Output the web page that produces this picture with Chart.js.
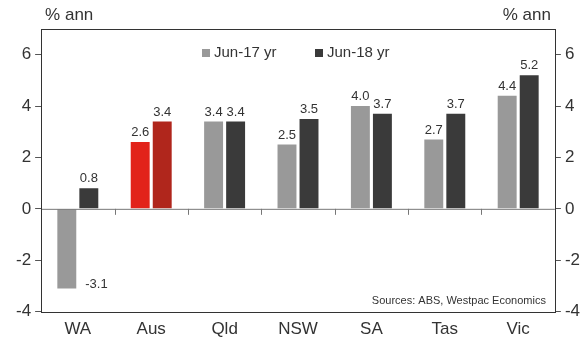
<!DOCTYPE html>
<html>
<head>
<meta charset="utf-8">
<script src="https://cdn.jsdelivr.net/npm/chart.js@4"></script>
<style>
  html, body { margin: 0; padding: 0; background: #fff; }
  #wrap { width: 587px; height: 343px; }
</style>
</head>
<body>
<div id="wrap"><canvas id="growth-chart"></canvas></div>
<script>
const categories = ['WA', 'Aus', 'Qld', 'NSW', 'SA', 'Tas', 'Vic'];
const jun17 = [-3.1, 2.6, 3.4, 2.5, 4.0, 2.7, 4.4];
const jun18 = [0.8, 3.4, 3.4, 3.5, 3.7, 3.7, 5.2];
const seriesNames = ['Jun-17 yr', 'Jun-18 yr'];
const yTicks = [-4, -2, 0, 2, 4, 6];

const font = '"Liberation Sans", Arial, sans-serif';
const grey = '#999999';
const dark = '#3a3a3a';

// bar labels, box, zero line, legend and notes
const extras = {
    id: 'extras',
    afterDatasetsDraw(chart) {
        const { ctx, chartArea: a, scales } = chart;
        const y0 = scales.y.getPixelForValue(0);
        ctx.save();
        // zero line + category ticks
        ctx.strokeStyle = '#777';
        ctx.lineWidth = 1;
        ctx.beginPath();
        ctx.moveTo(a.left, y0 + 0.5);
        ctx.lineTo(a.right, y0 + 0.5);
        for (let i = 1; i < categories.length; i++) {
            const x = Math.round(scales.x.getPixelForValue(i - 0.5)) + 0.5;
            ctx.moveTo(x, y0);
            ctx.lineTo(x, y0 + 6);
        }
        ctx.stroke();
        // box
        ctx.strokeStyle = '#333';
        ctx.strokeRect(Math.round(a.left) + 0.5, Math.round(a.top) + 0.5,
            Math.round(a.width), Math.round(a.height));

        // value labels
        ctx.font = '13px ' + font;
        ctx.fillStyle = '#333';
        ctx.textAlign = 'center';
        chart.data.datasets.forEach((ds, di) => {
            chart.getDatasetMeta(di).data.forEach((bar, i) => {
                const v = ds.data[i];
                if (v >= 0) {
                    ctx.textBaseline = 'bottom';
                    ctx.fillText(v.toFixed(1), bar.x, bar.y - 3);
                } else {
                    ctx.textBaseline = 'middle';
                    ctx.textAlign = 'left';
                    ctx.fillText(v.toFixed(1), bar.x + bar.width / 2 + 9, bar.y - 4);
                    ctx.textAlign = 'center';
                }
            });
        });

        // legend
        ctx.font = '15px ' + font;
        ctx.textAlign = 'left';
        ctx.textBaseline = 'middle';
        const ly = a.top + 24;
        [[grey, seriesNames[0], 202], [dark, seriesNames[1], 315]].forEach(([c, t, x]) => {
            ctx.fillStyle = c;
            ctx.fillRect(x, ly - 4, 8, 8);
            ctx.fillStyle = '#333';
            ctx.fillText(t, x + 12, ly);
        });

        // axis units
        ctx.font = '17px ' + font;
        ctx.textBaseline = 'alphabetic';
        ctx.textAlign = 'left';
        ctx.fillText('% ann', a.left + 4, 20);
        ctx.textAlign = 'right';
        ctx.fillText('% ann', a.right - 4, 20);

        // source
        ctx.font = '11px ' + font;
        ctx.fillText('Sources: ABS, Westpac Economics', a.right - 9, a.bottom - 8);
        ctx.restore();
    }
};

const colorsFor = (base, aus) => categories.map(c => c === 'Aus' ? aus : base);

const axisY = (pos) => ({
    position: pos,
    min: -4,
    max: 7,
    afterBuildTicks: (s) => { s.ticks = yTicks.map(v => ({ value: v })); },
    grid: { drawOnChartArea: false, tickLength: 6, color: '#555' },
    border: { display: false },
    ticks: { color: '#333', font: { family: font, size: 17 }, padding: 4 }
});

document.addEventListener('DOMContentLoaded', () => {
    const ctx = document.getElementById('growth-chart').getContext('2d');
    new Chart(ctx, {
        type: 'bar',
        data: {
            labels: categories,
            datasets: [
                {
                    label: seriesNames[0],
                    data: jun17,
                    backgroundColor: colorsFor(grey, '#e2231a'),
                },
                {
                    label: seriesNames[1],
                    data: jun18,
                    backgroundColor: colorsFor(dark, '#b0261c'),
                },
            ],
        },
        options: {
            responsive: true,
            maintainAspectRatio: false,
            animation: false,
            categoryPercentage: 0.6,
            barPercentage: 0.86,
            layout: { padding: { top: 29, left: 12, right: 3, bottom: 3 } },
            plugins: {
                legend: { display: false },
                tooltip: { enabled: false },
            },
            scales: {
                x: {
                    grid: { display: false },
                    border: { display: false },
                    ticks: { color: '#333', font: { family: font, size: 17 }, padding: 0 },
                },
                y: axisY('left'),
                y2: axisY('right'),
            },
        },
        plugins: [extras],
    });
});
</script>
</body>
</html>
